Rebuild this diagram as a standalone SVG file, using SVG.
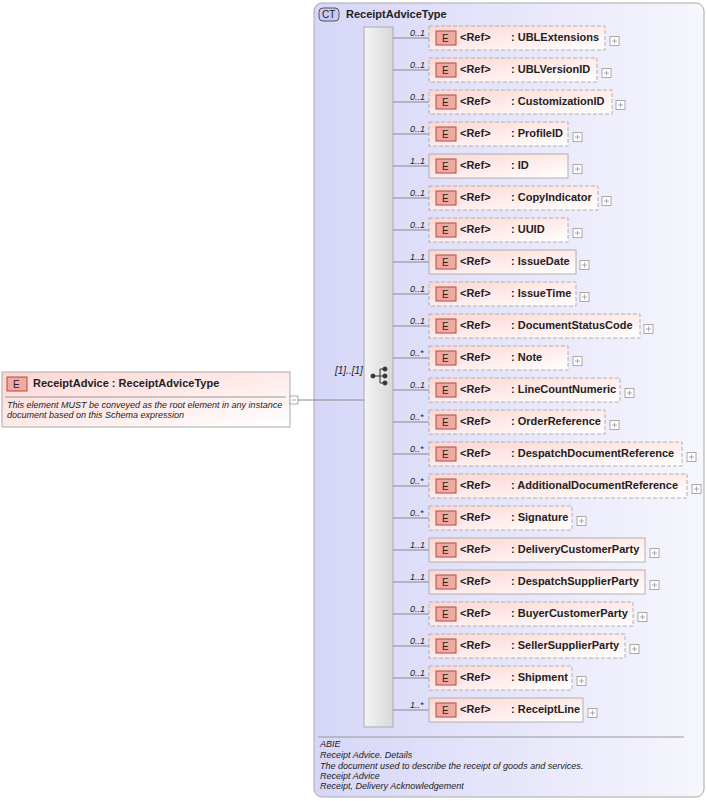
<svg xmlns="http://www.w3.org/2000/svg" width="707" height="801" viewBox="0 0 707 801">
<defs>
<linearGradient id="eg" x1="0" y1="0" x2="1" y2="1"><stop offset="0" stop-color="#fcd6d3"/><stop offset="1" stop-color="#ffffff"/></linearGradient>
<linearGradient id="bar" x1="0" y1="0" x2="1" y2="0"><stop offset="0" stop-color="#f4f4f4"/><stop offset="1" stop-color="#d8d8d8"/></linearGradient>
<linearGradient id="ct" x1="0" y1="0" x2="1" y2="0"><stop offset="0" stop-color="#d6d6f8"/><stop offset="1" stop-color="#f6f6fd"/></linearGradient>
<g id="plus"><rect x="0" y="-4.5" width="9" height="9" fill="#fff" stroke="#aaa"/><path d="M2 0h5M4.5 -2.5v5" stroke="#aaa"/></g>
</defs>
<style>
text{font-family:"Liberation Sans",Arial,sans-serif;font-size:11px;fill:#222}
.b{font-weight:bold}
.i{font-style:italic;font-size:9px}
.box{fill:url(#eg);stroke:#b0b0b0}
.opt{stroke-dasharray:4 2}
.badge{fill:#f2a9a2;stroke:#b04a40}
.con{stroke:#888;fill:none}
</style>
<g id="ct-box">
<rect x="314" y="3" width="390" height="794" rx="8" fill="url(#ct)" stroke="#aaa"/>
<rect x="319" y="8" width="20" height="13" rx="4" fill="#c8c8f0" stroke="#555"/>
<text x="322" y="18" style="font-size:10px">CT</text>
<text x="346" y="18" class="b">ReceiptAdviceType</text>
<line x1="318" y1="737" x2="684" y2="737" stroke="#999"/>
<text class="i" x="320" y="747">ABIE</text>
<text class="i" x="320" y="758">Receipt Advice. Details</text>
<text class="i" x="320" y="769">The document used to describe the receipt of goods and services.</text>
<text class="i" x="320" y="779">Receipt Advice</text>
<text class="i" x="320" y="789">Receipt, Delivery Acknowledgement</text>
</g>
<g id="root">
<rect x="2" y="372" width="288" height="55" fill="url(#eg)" stroke="#aaa"/>
<rect x="7" y="377" width="20" height="14" class="badge"/>
<text x="13" y="388" style="font-size:10px">E</text>
<text x="33" y="387" class="b">ReceiptAdvice  : ReceiptAdviceType</text>
<line x1="5" y1="397" x2="286" y2="397" stroke="#999"/>
<text class="i" x="7" y="408">This element MUST be conveyed as the root element in any instance</text>
<text class="i" x="7" y="418">document based on this Schema expression</text>
<rect x="290" y="396" width="8" height="8" fill="#fff" stroke="#aaa"/><path d="M292 400h4" stroke="#aaa"/>
</g>
<g id="sequence">
<rect x="364" y="27" width="29" height="700" fill="url(#bar)" stroke="#aaa"/>
<g stroke="#333" fill="#333">
<line x1="372" y1="376" x2="380" y2="376"/><line x1="380" y1="369" x2="380" y2="383"/>
<line x1="380" y1="369" x2="385" y2="369"/><line x1="380" y1="376" x2="385" y2="376"/><line x1="380" y1="383" x2="385" y2="383"/>
<circle cx="373" cy="376" r="2"/><circle cx="385" cy="369" r="2"/><circle cx="385" cy="376" r="2"/><circle cx="385" cy="383" r="2"/>
</g>
</g>
<g id="connectors" class="con">
<path d="M298 400H364"/>
<path d="M393 38H429M393 70H429M393 102H429M393 134H429M393 166H429M393 198H429M393 230H429M393 262H429M393 294H429M393 326H429M393 358H429M393 390H429M393 422H429M393 454H429M393 486H429M393 518H429M393 550H429M393 582H429M393 614H429M393 646H429M393 678H429M393 710H429"/>
</g>
<text class="i" x="335" y="374" style="font-size:10px">[1]..[1]</text>
<g id="children">
<g id="n1"><text class="i" x="410" y="36">0..1</text><rect class="box opt" x="429" y="26" width="176" height="24"/><rect class="badge" x="436" y="31" width="20" height="14"/><text x="442" y="42" style="font-size:10px">E</text><text x="460" y="41" class="b">&lt;Ref&gt;</text><text x="511" y="41" class="b">: UBLExtensions</text><use href="#plus" x="610" y="41"/></g>
<g id="n2"><text class="i" x="410" y="68">0..1</text><rect class="box opt" x="429" y="58" width="168" height="24"/><rect class="badge" x="436" y="63" width="20" height="14"/><text x="442" y="74" style="font-size:10px">E</text><text x="460" y="73" class="b">&lt;Ref&gt;</text><text x="511" y="73" class="b">: UBLVersionID</text><use href="#plus" x="602" y="73"/></g>
<g id="n3"><text class="i" x="410" y="100">0..1</text><rect class="box opt" x="429" y="90" width="183" height="24"/><rect class="badge" x="436" y="95" width="20" height="14"/><text x="442" y="106" style="font-size:10px">E</text><text x="460" y="105" class="b">&lt;Ref&gt;</text><text x="511" y="105" class="b">: CustomizationID</text><use href="#plus" x="616" y="105"/></g>
<g id="n4"><text class="i" x="410" y="132">0..1</text><rect class="box opt" x="429" y="122" width="139" height="24"/><rect class="badge" x="436" y="127" width="20" height="14"/><text x="442" y="138" style="font-size:10px">E</text><text x="460" y="137" class="b">&lt;Ref&gt;</text><text x="511" y="137" class="b">: ProfileID</text><use href="#plus" x="573" y="137"/></g>
<g id="n5"><text class="i" x="410" y="164">1..1</text><rect class="box" x="429" y="154" width="139" height="24"/><rect class="badge" x="436" y="159" width="20" height="14"/><text x="442" y="170" style="font-size:10px">E</text><text x="460" y="169" class="b">&lt;Ref&gt;</text><text x="511" y="169" class="b">: ID</text><use href="#plus" x="573" y="169"/></g>
<g id="n6"><text class="i" x="410" y="196">0..1</text><rect class="box opt" x="429" y="186" width="169" height="24"/><rect class="badge" x="436" y="191" width="20" height="14"/><text x="442" y="202" style="font-size:10px">E</text><text x="460" y="201" class="b">&lt;Ref&gt;</text><text x="511" y="201" class="b">: CopyIndicator</text><use href="#plus" x="602" y="201"/></g>
<g id="n7"><text class="i" x="410" y="228">0..1</text><rect class="box opt" x="429" y="218" width="139" height="24"/><rect class="badge" x="436" y="223" width="20" height="14"/><text x="442" y="234" style="font-size:10px">E</text><text x="460" y="233" class="b">&lt;Ref&gt;</text><text x="511" y="233" class="b">: UUID</text><use href="#plus" x="573" y="233"/></g>
<g id="n8"><text class="i" x="410" y="260">1..1</text><rect class="box" x="429" y="250" width="147" height="24"/><rect class="badge" x="436" y="255" width="20" height="14"/><text x="442" y="266" style="font-size:10px">E</text><text x="460" y="265" class="b">&lt;Ref&gt;</text><text x="511" y="265" class="b">: IssueDate</text><use href="#plus" x="580" y="265"/></g>
<g id="n9"><text class="i" x="410" y="292">0..1</text><rect class="box opt" x="429" y="282" width="147" height="24"/><rect class="badge" x="436" y="287" width="20" height="14"/><text x="442" y="298" style="font-size:10px">E</text><text x="460" y="297" class="b">&lt;Ref&gt;</text><text x="511" y="297" class="b">: IssueTime</text><use href="#plus" x="580" y="297"/></g>
<g id="n10"><text class="i" x="410" y="324">0..1</text><rect class="box opt" x="429" y="314" width="211" height="24"/><rect class="badge" x="436" y="319" width="20" height="14"/><text x="442" y="330" style="font-size:10px">E</text><text x="460" y="329" class="b">&lt;Ref&gt;</text><text x="511" y="329" class="b">: DocumentStatusCode</text><use href="#plus" x="644" y="329"/></g>
<g id="n11"><text class="i" x="410" y="356">0..*</text><rect class="box opt" x="429" y="346" width="139" height="24"/><rect class="badge" x="436" y="351" width="20" height="14"/><text x="442" y="362" style="font-size:10px">E</text><text x="460" y="361" class="b">&lt;Ref&gt;</text><text x="511" y="361" class="b">: Note</text><use href="#plus" x="573" y="361"/></g>
<g id="n12"><text class="i" x="410" y="388">0..1</text><rect class="box opt" x="429" y="378" width="191" height="24"/><rect class="badge" x="436" y="383" width="20" height="14"/><text x="442" y="394" style="font-size:10px">E</text><text x="460" y="393" class="b">&lt;Ref&gt;</text><text x="511" y="393" class="b">: LineCountNumeric</text><use href="#plus" x="625" y="393"/></g>
<g id="n13"><text class="i" x="410" y="420">0..*</text><rect class="box opt" x="429" y="410" width="176" height="24"/><rect class="badge" x="436" y="415" width="20" height="14"/><text x="442" y="426" style="font-size:10px">E</text><text x="460" y="425" class="b">&lt;Ref&gt;</text><text x="511" y="425" class="b">: OrderReference</text><use href="#plus" x="610" y="425"/></g>
<g id="n14"><text class="i" x="410" y="452">0..*</text><rect class="box opt" x="429" y="442" width="253" height="24"/><rect class="badge" x="436" y="447" width="20" height="14"/><text x="442" y="458" style="font-size:10px">E</text><text x="460" y="457" class="b">&lt;Ref&gt;</text><text x="511" y="457" class="b">: DespatchDocumentReference</text><use href="#plus" x="687" y="457"/></g>
<g id="n15"><text class="i" x="410" y="484">0..*</text><rect class="box opt" x="429" y="474" width="258" height="24"/><rect class="badge" x="436" y="479" width="20" height="14"/><text x="442" y="490" style="font-size:10px">E</text><text x="460" y="489" class="b">&lt;Ref&gt;</text><text x="511" y="489" class="b">: AdditionalDocumentReference</text><use href="#plus" x="692" y="489"/></g>
<g id="n16"><text class="i" x="410" y="516">0..*</text><rect class="box opt" x="429" y="506" width="143" height="24"/><rect class="badge" x="436" y="511" width="20" height="14"/><text x="442" y="522" style="font-size:10px">E</text><text x="460" y="521" class="b">&lt;Ref&gt;</text><text x="511" y="521" class="b">: Signature</text><use href="#plus" x="577" y="521"/></g>
<g id="n17"><text class="i" x="410" y="548">1..1</text><rect class="box" x="429" y="538" width="216" height="24"/><rect class="badge" x="436" y="543" width="20" height="14"/><text x="442" y="554" style="font-size:10px">E</text><text x="460" y="553" class="b">&lt;Ref&gt;</text><text x="511" y="553" class="b">: DeliveryCustomerParty</text><use href="#plus" x="650" y="553"/></g>
<g id="n18"><text class="i" x="410" y="580">1..1</text><rect class="box" x="429" y="570" width="216" height="24"/><rect class="badge" x="436" y="575" width="20" height="14"/><text x="442" y="586" style="font-size:10px">E</text><text x="460" y="585" class="b">&lt;Ref&gt;</text><text x="511" y="585" class="b">: DespatchSupplierParty</text><use href="#plus" x="650" y="585"/></g>
<g id="n19"><text class="i" x="410" y="612">0..1</text><rect class="box opt" x="429" y="602" width="204" height="24"/><rect class="badge" x="436" y="607" width="20" height="14"/><text x="442" y="618" style="font-size:10px">E</text><text x="460" y="617" class="b">&lt;Ref&gt;</text><text x="511" y="617" class="b">: BuyerCustomerParty</text><use href="#plus" x="638" y="617"/></g>
<g id="n20"><text class="i" x="410" y="644">0..1</text><rect class="box opt" x="429" y="634" width="196" height="24"/><rect class="badge" x="436" y="639" width="20" height="14"/><text x="442" y="650" style="font-size:10px">E</text><text x="460" y="649" class="b">&lt;Ref&gt;</text><text x="511" y="649" class="b">: SellerSupplierParty</text><use href="#plus" x="630" y="649"/></g>
<g id="n21"><text class="i" x="410" y="676">0..1</text><rect class="box opt" x="429" y="666" width="143" height="24"/><rect class="badge" x="436" y="671" width="20" height="14"/><text x="442" y="682" style="font-size:10px">E</text><text x="460" y="681" class="b">&lt;Ref&gt;</text><text x="511" y="681" class="b">: Shipment</text><use href="#plus" x="577" y="681"/></g>
<g id="n22"><text class="i" x="410" y="708">1..*</text><rect class="box" x="429" y="698" width="154" height="24"/><rect class="badge" x="436" y="703" width="20" height="14"/><text x="442" y="714" style="font-size:10px">E</text><text x="460" y="713" class="b">&lt;Ref&gt;</text><text x="511" y="713" class="b">: ReceiptLine</text><use href="#plus" x="588" y="713"/></g>
</g>
</svg>
